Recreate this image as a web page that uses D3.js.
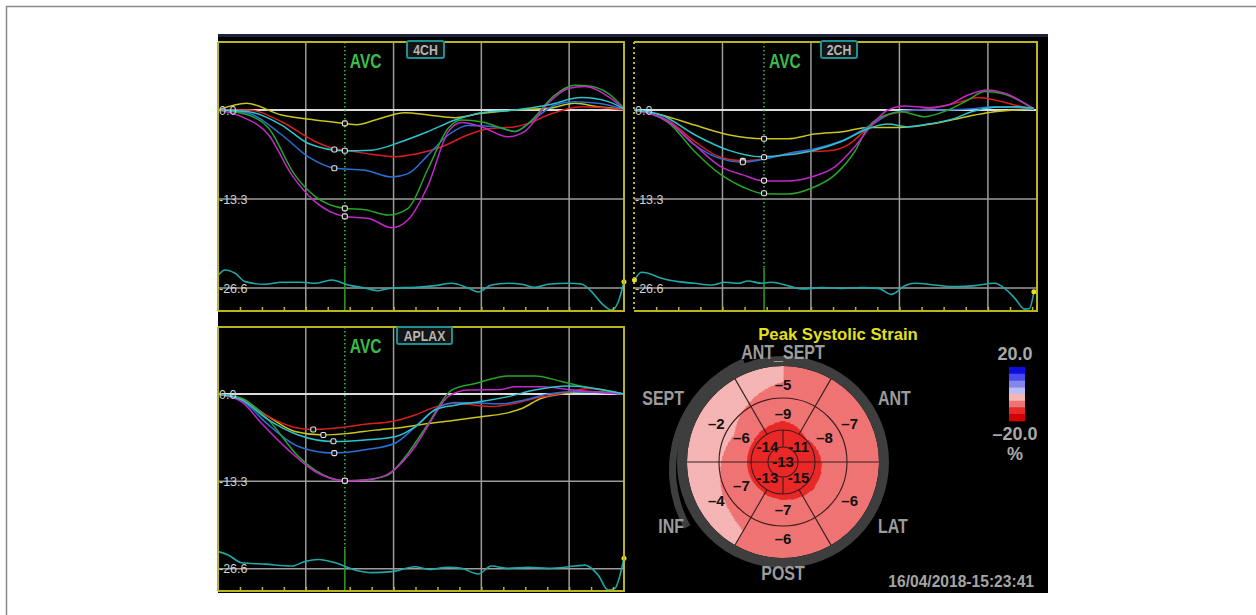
<!DOCTYPE html>
<html>
<head>
<meta charset="utf-8">
<script src="https://cdn.jsdelivr.net/npm/d3@7"></script>
<style>
body { margin: 0; background: #fff; }
svg { display: block; }
</style>
</head>
<body>
<svg id="chart" width="1256" height="615"></svg>
<script>
// ---- axes ----
var gridTimes = [200, 400, 600, 800];       // ms, major grid
var yTicks = [0, -13.3, -26.6];
var yTickLabels = ["0.0", "-13.3", "-26.6"];

// ---- 4CH strain curves [ms, %] ----
var ch4Yellow  = [[0,0],[65,1.0],[145,-0.75],[221,-1.5],[289,-2.0],[316,-2.2],[358,-1.5],[426,-0.4],[479,-0.75],[540,-1.15],[600,-0.5],[677,0],[752,0.25],[813,1.0],[866,0.5],[925,0.15]];
var ch4Red     = [[0,0],[69,0],[145,-1.75],[221,-4.7],[265,-5.8],[289,-6.0],[350,-6.6],[403,-7.0],[449,-6.6],[510,-5.5],[570,-3.7],[616,-2.8],[677,-2.5],[707,-2.0],[752,-0.75],[828,0.5],[866,0.4],[925,0]];
var ch4Cyan    = [[0,0],[69,-0.25],[145,-2.25],[206,-5.0],[289,-6.1],[350,-6.0],[419,-4.7],[479,-3.2],[540,-1.5],[600,-0.4],[677,0],[752,0.75],[828,1.85],[889,1.25],[925,0.15]];
var ch4Blue    = [[0,0],[69,-0.5],[145,-3.7],[206,-7.0],[267,-8.7],[335,-9.0],[396,-10.0],[433,-9.5],[479,-6.7],[525,-3.7],[570,-2.3],[631,-2.5],[677,-3.2],[722,-1.25],[768,0.75],[813,1.25],[866,1.0],[925,0.15]];
var ch4Green   = [[0,0],[69,-0.75],[115,-2.7],[175,-9.7],[221,-12.9],[289,-14.7],[335,-14.9],[388,-15.7],[433,-14.7],[479,-8.7],[525,-2.7],[555,-1.5],[600,-1.75],[646,-2.7],[677,-3.2],[707,-2.0],[768,2.25],[813,3.7],[844,3.6],[889,2.5],[925,0.25]];
var ch4Magenta = [[0,0],[54,-1.0],[115,-3.7],[168,-9.7],[221,-13.7],[289,-15.9],[343,-16.2],[396,-17.6],[433,-16.4],[479,-11.2],[525,-3.2],[555,-1.85],[600,-2.5],[661,-4.0],[699,-3.2],[752,1.0],[798,3.2],[836,3.5],[889,2.0],[925,0.15]];
var ch4Marks   = [[289,-2.0],[265,-5.9],[289,-6.1],[265,-8.7],[289,-14.7],[289,-15.9]];
var ch4Ecg     = [[1,-24.65],[16,-23.9],[39,-24.4],[62,-25.65],[107,-26.05],[145,-25.75],[191,-25.75],[221,-25.9],[259,-25.4],[297,-26.15],[335,-26.6],[365,-27.0],[396,-26.6],[449,-26.5],[494,-26.25],[532,-25.9],[570,-26.6],[593,-27.2],[623,-26.15],[661,-25.9],[692,-26.05],[722,-26.5],[752,-26.05],[798,-25.9],[828,-26.0],[851,-27.15],[874,-28.9],[897,-29.9],[912,-28.65],[925,-25.65]];

// ---- 2CH ----
var ch2Yellow  = [[0,0],[62,-0.75],[137,-2.25],[213,-3.7],[294,-4.3],[348,-4.3],[408,-3.6],[476,-3.2],[529,-2.6],[589,-2.6],[650,-2.3],[710,-1.6],[770,-0.75],[815,-0.25],[904,0.1]];
var ch2Red     = [[0,0],[77,-1.5],[137,-4.7],[197,-7.1],[246,-7.6],[303,-7.2],[363,-6.3],[439,-6.1],[484,-5.2],[529,-2.7],[574,-0.75],[619,-0.15],[680,0.35],[740,1.25],[778,1.85],[815,1.5],[860,0.75],[904,0.15]];
var ch2Cyan    = [[0,0],[62,-0.75],[137,-3.7],[213,-6.0],[288,-7.0],[348,-6.7],[408,-6.0],[469,-4.7],[529,-2.8],[574,-2.1],[619,-2.5],[665,-2.1],[725,-1.25],[763,-0.25],[815,0.4],[868,0.5],[904,0.25]];
var ch2Blue    = [[0,0],[77,-1.65],[137,-5.2],[197,-7.3],[246,-7.8],[303,-7.2],[363,-6.3],[408,-5.8],[469,-4.6],[529,-2.5],[582,-0.5],[634,0],[695,0],[755,0.15],[815,0.5],[904,0.15]];
var ch2Green   = [[0,0],[77,-1.85],[137,-6.2],[197,-9.7],[246,-11.5],[294,-12.5],[348,-12.55],[401,-11.7],[454,-9.7],[499,-6.2],[529,-2.6],[574,-0.65],[604,-0.25],[657,-1.0],[710,0],[755,1.5],[793,2.75],[830,2.5],[904,0.15]];
var ch2Magenta = [[0,0],[77,-1.75],[137,-5.2],[197,-8.5],[246,-9.7],[294,-10.6],[348,-10.6],[401,-10.0],[454,-8.5],[499,-5.5],[544,-1.75],[574,0],[612,0.6],[665,0.35],[710,0.75],[755,2.25],[800,3.0],[838,2.5],[904,0.15]];
var ch2Marks   = [[294,-4.3],[246,-7.6],[294,-7.05],[246,-7.8],[294,-12.45],[294,-10.55]];
var ch2Ecg     = [[1,-25.4],[17,-24.25],[32,-24.4],[62,-25.15],[100,-25.65],[137,-25.9],[175,-26.15],[205,-25.75],[235,-25.9],[258,-25.55],[288,-25.9],[310,-25.75],[348,-26.25],[378,-26.75],[424,-26.55],[469,-26.65],[514,-26.55],[552,-26.65],[582,-27.55],[612,-26.25],[635,-25.9],[680,-26.15],[725,-26.4],[770,-26.25],[815,-25.9],[838,-26.65],[861,-28.15],[883,-29.75],[894,-29.65],[904,-27.15]];

// ---- APLAX ----
var lxYellow  = [[0,0],[54,-0.8],[115,-3.45],[175,-5.7],[240,-6.25],[297,-6.0],[358,-5.5],[419,-5.1],[479,-4.5],[540,-4.0],[600,-3.45],[654,-2.95],[692,-2.2],[737,-0.65],[783,0],[844,0.35],[925,0]];
var lxRed     = [[0,0],[54,-0.9],[115,-3.45],[175,-5.1],[217,-5.4],[282,-5.1],[335,-4.6],[396,-4.2],[449,-3.2],[494,-2.0],[540,-1.4],[586,-1.7],[623,-1.9],[677,-1.4],[722,-0.65],[783,0.1],[844,0.85],[925,0]];
var lxCyan    = [[0,0],[54,-0.9],[115,-3.95],[183,-6.25],[263,-7.25],[335,-7.0],[403,-6.5],[449,-5.0],[494,-2.45],[540,-1.7],[600,-1.15],[661,-0.4],[722,0.6],[798,1.2],[859,0.85],[925,0]];
var lxBlue    = [[0,0],[54,-1.0],[115,-4.7],[183,-8.0],[263,-9.0],[335,-8.5],[403,-7.5],[449,-5.0],[494,-2.35],[540,-1.3],[600,-1.4],[646,-1.5],[699,-0.9],[752,0],[813,0.35],[925,0]];
var lxGreen   = [[0,0],[54,-0.65],[115,-3.95],[183,-9.5],[221,-11.6],[289,-13.2],[343,-13.0],[388,-12.3],[433,-9.0],[479,-4.5],[532,0.6],[586,1.6],[661,2.75],[722,2.75],[783,1.9],[828,1.2],[925,0]];
var lxMagenta = [[0,0],[54,-1.2],[99,-4.45],[160,-8.5],[221,-11.8],[289,-13.2],[350,-13.0],[396,-11.8],[449,-8.0],[486,-4.0],[524,-0.4],[570,0.6],[646,0.7],[677,1.1],[737,1.1],[798,0.7],[925,0]];
var lxMarks   = [[240,-6.25],[217,-5.4],[263,-7.2],[265,-9.0],[289,-13.2],[289,-13.2]];
var lxEcg     = [[1,-24.0],[23,-24.5],[54,-25.7],[107,-25.9],[168,-26.2],[198,-25.5],[229,-25.2],[267,-25.7],[312,-26.8],[350,-27.2],[396,-27.05],[449,-26.3],[480,-26.7],[525,-26.4],[555,-26.55],[593,-27.4],[623,-26.2],[661,-26.55],[707,-26.4],[752,-26.55],[813,-26.2],[836,-26.05],[866,-27.55],[889,-29.85],[904,-29.6],[925,-25.0]];

// ---- bull's eye: peak systolic strain (%) ----
var segNames    = ["ANT_SEPT", "ANT", "LAT", "POST", "INF", "SEPT"];  // clockwise from top
var basalVals   = [-5, -7, -6, -6, -4, -2];
var midVals     = [-9, -8, -8, -7, -7, -6];
var midLabels   = ["–9", "–8", "", "–7", "–7", "–6"];
var apicalVals  = [-11, -15, -13, -14];   // ANT, LAT, INF, SEPT
var apexVal     = -13;
var legendSteps = [-15, -10, -5, 0, 5, 10, 15];
var legendTop = "20.0", legendBottom = "–20.0";

// ---- styles ----
// curve colours, same order as the curve lists: yellow, red, cyan, blue, green, magenta
var curveColors = ["#c9c41e", "#d81e1e", "#2cc4cc", "#2a6ed8", "#28a428", "#c228c8"];
var drawOrder = [0, 1, 3, 4, 5, 2];
var strainColors = ["#d60000", "#ea2828", "#ef7474", "#f5b5b5", "#bcbcf4", "#8585f0", "#4a4aee", "#0c0cdc"];
var sans = "'Liberation Sans',Arial,sans-serif";

var svg = d3.select("#chart");

svg.append("path").attr("d", "M6.5,615V6.5H1256")
  .attr("fill", "none").attr("stroke", "#8a8a8a").attr("stroke-width", 1.5);
svg.append("rect").attr("x", 218).attr("y", 34).attr("width", 830).attr("height", 559).attr("fill", "#000");
svg.append("rect").attr("x", 218).attr("y", 34).attr("width", 830).attr("height", 3).attr("fill", "#1a2240");

// condensed bold label (squeezed horizontally)
function narrowText(sel, x, y, txt, size, color, anchor, sx) {
  return sel.append("text")
    .attr("transform", "translate(" + x + "," + y + ") scale(" + (sx || 0.82) + ",1)")
    .attr("text-anchor", anchor || "start")
    .attr("fill", color).attr("font-family", sans).attr("font-weight", "bold").attr("font-size", size)
    .text(txt);
}

var panels = [
  { name: "4CH", x0: 218, x1: 624, tEnd: 925, top: 42, bottom: 311, y0: 110, y26: 288, avc: 289, boxX: 425.5, boxY: 41, boxW: 37,
    curves: [ch4Yellow, ch4Red, ch4Cyan, ch4Blue, ch4Green, ch4Magenta], marks: ch4Marks, ecg: ch4Ecg },
  { name: "2CH", x0: 634, x1: 1037, tEnd: 911, top: 42, bottom: 311, y0: 110, y26: 288, avc: 294, boxX: 839, boxY: 41, boxW: 36, dotted: true, startDot: true,
    curves: [ch2Yellow, ch2Red, ch2Cyan, ch2Blue, ch2Green, ch2Magenta], marks: ch2Marks, ecg: ch2Ecg },
  { name: "APLAX", x0: 218, x1: 624, tEnd: 925, top: 327, bottom: 591, y0: 394, y26: 568.7, avc: 289, boxX: 424.5, boxY: 327, boxW: 55,
    curves: [lxYellow, lxRed, lxCyan, lxBlue, lxGreen, lxMagenta], marks: lxMarks, ecg: lxEcg }
];

panels.forEach(drawPanel);

function drawPanel(p, pi) {
  var x = d3.scaleLinear().domain([0, p.tEnd]).range([p.x0, p.x1]);
  var y = d3.scaleLinear().domain([0, -26.6]).range([p.y0, p.y26]);
  var g = svg.append("g");

  var clipId = "clip" + pi;
  g.append("clipPath").attr("id", clipId).append("rect")
    .attr("x", p.x0).attr("y", p.top).attr("width", p.x1 - p.x0).attr("height", p.bottom - p.top);

  g.selectAll(".vgrid").data(gridTimes).enter().append("line")
    .attr("x1", d => x(d)).attr("x2", d => x(d))
    .attr("y1", p.top).attr("y2", p.bottom)
    .attr("stroke", "#9c9c9c").attr("stroke-width", 1.5);

  g.selectAll(".hgrid").data(yTicks).enter().append("line")
    .attr("x1", p.x0).attr("x2", p.x1)
    .attr("y1", d => y(d)).attr("y2", d => y(d))
    .attr("stroke", (d, i) => i === 0 ? "#dcdcdc" : "#9c9c9c")
    .attr("stroke-width", (d, i) => i === 0 ? 2 : 1.5);

  // AVC marker line: dotted over the strain area, solid over the ECG
  var ySplit = y(-23.6);
  g.append("line").attr("x1", x(p.avc)).attr("x2", x(p.avc)).attr("y1", p.top).attr("y2", ySplit)
    .attr("stroke", "#3cbf3c").attr("stroke-width", 1.5).attr("stroke-dasharray", "1.5,2.5");
  g.append("line").attr("x1", x(p.avc)).attr("x2", x(p.avc)).attr("y1", ySplit).attr("y2", p.bottom)
    .attr("stroke", "#2a9e2a").attr("stroke-width", 1.5);

  var line = d3.line().x(d => x(d[0])).y(d => y(d[1])).curve(d3.curveMonotoneX);
  var plot = g.append("g").attr("clip-path", "url(#" + clipId + ")");

  plot.append("path").datum(p.ecg).attr("d", line)
    .attr("fill", "none").attr("stroke", "#1fa8aa").attr("stroke-width", 1.6);

  drawOrder.forEach(function (k) {
    plot.append("path").datum(p.curves[k]).attr("d", line)
      .attr("fill", "none").attr("stroke", curveColors[k]).attr("stroke-width", 1.5);
  });

  plot.selectAll(".mark").data(p.marks).enter().append("rect")
    .attr("x", d => x(d[0]) - 2.5).attr("y", d => y(d[1]) - 2.5)
    .attr("width", 5).attr("height", 5).attr("rx", 1.5)
    .attr("fill", "#111").attr("stroke", "#e4e4e4").attr("stroke-width", 1.1);

  var ends = [p.ecg[p.ecg.length - 1]];
  if (p.startDot) ends.push(p.ecg[0]);
  g.selectAll(".cursor").data(ends).enter().append("circle")
    .attr("cx", d => x(d[0])).attr("cy", d => y(d[1])).attr("r", 2.5).attr("fill", "#e6e01e");

  g.selectAll(".ylab").data(yTicks).enter().append("text")
    .attr("x", p.x0 + 1).attr("y", d => y(d) + 4.5)
    .attr("fill", "#d2d2d2").attr("font-family", sans).attr("font-size", 12.5)
    .text((d, i) => yTickLabels[i]);

  // frame
  var fc = "#b9b61e";
  g.append("path")
    .attr("d", "M" + p.x0 + "," + p.top + "H" + p.x1 + "V" + p.bottom + "H" + p.x0)
    .attr("fill", "none").attr("stroke", fc).attr("stroke-width", 2);
  g.append("line").attr("x1", p.x0).attr("x2", p.x0).attr("y1", p.top).attr("y2", p.bottom)
    .attr("stroke", fc).attr("stroke-width", 2).attr("stroke-dasharray", p.dotted ? "2,3" : null);

  // minor ticks every 50 ms on the bottom edge
  var ax = d3.axisTop(x).tickValues(d3.range(50, p.tEnd, 50)).tickSize(4).tickSizeOuter(0).tickFormat("");
  var axg = g.append("g").attr("transform", "translate(0," + p.bottom + ")").call(ax);
  axg.select(".domain").remove();
  axg.selectAll("line").attr("stroke", fc).attr("stroke-width", 1.5);

  // AVC text and view label
  narrowText(g, x(p.avc) + 5, p.top + 26, "AVC", 20.5, "#3dbb4a", "start", 0.76);
  g.append("rect").attr("x", p.boxX - p.boxW / 2).attr("y", p.boxY).attr("width", p.boxW).attr("height", 17)
    .attr("rx", 2).attr("fill", "#141414").attr("stroke", "#1f8f92").attr("stroke-width", 2);
  narrowText(g, p.boxX, p.boxY + 14, p.name, 15, "#b4b4b4", "middle");
}

// ---- bull's eye ----
var colorScale = d3.scaleThreshold().domain(legendSteps).range(strainColors);
var bcx = 783, bcy = 462;
var rApex = 15, rApical = 32, rMid = 64, rBasal = 96;
var ringCentres = [0, 24, 48, 80];

function ringValue(vals, start, step, th) {
  var n = vals.length;
  var u = (start - th) / step;
  u = ((u % n) + n) % n;
  var i0 = Math.floor(u), f = u - i0;
  return vals[i0] * (1 - f) + vals[(i0 + 1) % n] * f;
}
function fieldValue(r, th) {
  var knots = [apexVal, ringValue(apicalVals, 45, 90, th), ringValue(midVals, 90, 60, th), ringValue(basalVals, 90, 60, th)];
  if (r >= ringCentres[3]) return knots[3];
  for (var k = 0; k < 3; k++) {
    if (r <= ringCentres[k + 1]) {
      var f = (r - ringCentres[k]) / (ringCentres[k + 1] - ringCentres[k]);
      return knots[k] * (1 - f) + knots[k + 1] * f;
    }
  }
}

var arc = d3.arc();
var rad = Math.PI / 180;

// outer guide arc on the septal side
svg.append("path")
  .attr("transform", "translate(790,470)")
  .attr("d", arc({ innerRadius: 114, outerRadius: 121, startAngle: 241 * rad, endAngle: 337 * rad, cornerRadius: 3 }))
  .attr("fill", "#3e3e3e");

var bull = svg.append("g").attr("transform", "translate(" + bcx + "," + bcy + ")");

// colour field: painted from the rim inwards, every sector running to the centre
var fieldG = bull.append("g");
for (var r = rBasal; r >= 1; r--) {
  var runs = [], cur = null;
  for (var a = 0; a < 360; a++) {
    var c = colorScale(fieldValue(r - 0.5, 90 - (a + 0.5)));
    if (cur && cur.c === c) cur.e = a + 1;
    else { cur = { c: c, s: a, e: a + 1 }; runs.push(cur); }
  }
  runs.forEach(function (run) {
    fieldG.append("path")
      .attr("d", arc({ innerRadius: 0, outerRadius: r,
                       startAngle: (run.s - 0.4) * rad, endAngle: (run.e + 0.4) * rad }))
      .attr("fill", run.c);
  });
}

bull.append("circle").attr("r", rBasal + 5).attr("fill", "none").attr("stroke", "#3e3e3e").attr("stroke-width", 10);

var segLine = "#3a1c1c";
[rMid, rApical, rApex].forEach(function (rr) {
  bull.append("circle").attr("r", rr).attr("fill", "none").attr("stroke", segLine).attr("stroke-width", 1.1);
});
d3.range(6).forEach(function (i) {
  var th = i * 60 * rad;
  bull.append("line")
    .attr("x1", rApical * Math.cos(th)).attr("y1", -rApical * Math.sin(th))
    .attr("x2", rBasal * Math.cos(th)).attr("y2", -rBasal * Math.sin(th))
    .attr("stroke", segLine).attr("stroke-width", 1.1);
});
bull.append("line").attr("x1", -rApical).attr("x2", rApical).attr("y1", 0).attr("y2", 0)
  .attr("stroke", segLine).attr("stroke-width", 1.1);
[-1, 1].forEach(function (s) {
  bull.append("line").attr("x1", 0).attr("x2", 0).attr("y1", s * rApex).attr("y2", s * rApical)
    .attr("stroke", segLine).attr("stroke-width", 1.1);
});

function valueText(sel, data, radius, start, step, fmt) {
  sel.selectAll(null).data(data).enter().append("text")
    .attr("x", (d, i) => radius * Math.cos((start - step * i) * rad))
    .attr("y", (d, i) => -radius * Math.sin((start - step * i) * rad))
    .attr("dy", "0.36em").attr("text-anchor", "middle")
    .attr("fill", "#111").attr("font-family", sans).attr("font-weight", "bold").attr("font-size", 15)
    .text(fmt);
}
valueText(bull, basalVals, 77, 90, 60, d => "–" + Math.abs(d));
valueText(bull, midLabels, 48, 90, 60, d => d);
valueText(bull, apicalVals, 22, 45, 90, d => "-" + Math.abs(d));
valueText(bull, [apexVal], 0, 0, 0, d => "-" + Math.abs(d));

// wall names
segNames.forEach(function (name, i) {
  var side = i % 3 === 0 ? 0 : (i < 3 ? 1 : -1);
  var nx = side === 0 ? 0 : (side > 0 ? 95 : -99);
  var ny = i === 0 ? -103 : i === 3 ? 118 : (i === 1 || i === 5 ? -57 : 71);
  narrowText(bull, nx, ny, name, 19.5, "#9c9c9c", side === 0 ? "middle" : (side > 0 ? "start" : "end"));
});

svg.append("text").attr("x", 838).attr("y", 340).attr("text-anchor", "middle")
  .attr("fill", "#e4e01e").attr("font-family", sans).attr("font-weight", "bold").attr("font-size", 16.7)
  .text("Peak Systolic Strain");

svg.append("text").attr("x", 1034).attr("y", 587).attr("text-anchor", "end")
  .attr("fill", "#a4a4a4").attr("font-family", sans).attr("font-weight", "bold").attr("font-size", 15.6)
  .text("16/04/2018-15:23:41");

// colour legend
var bandH = 54 / strainColors.length;
svg.selectAll(".band").data(strainColors.slice().reverse()).enter().append("rect")
  .attr("x", 1009).attr("y", (d, i) => 367 + i * bandH)
  .attr("width", 16).attr("height", bandH + 0.3).attr("fill", d => d);
[[legendTop, 360], [legendBottom, 440], ["%", 460]].forEach(function (t) {
  svg.append("text").attr("x", 1015).attr("y", t[1]).attr("text-anchor", "middle")
    .attr("fill", "#a8a8a8").attr("font-family", sans).attr("font-weight", "bold").attr("font-size", 18)
    .text(t[0]);
});
</script>
</body>
</html>
